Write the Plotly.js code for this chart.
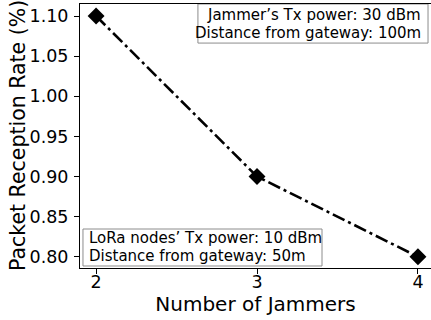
<!DOCTYPE html>
<html>
<head>
<meta charset="utf-8">
<script src="https://cdn.plot.ly/plotly-3.0.1.min.js"></script>
<style>html,body{margin:0;padding:0;background:#fff;overflow:hidden;}#chart{width:431px;height:320px;}</style>
</head>
<body>
<div id="chart"></div>
<script>
const jammers = [2, 3, 4];
const receptionRate = [1.10, 0.90, 0.80];
const xTicks = [2, 3, 4];
const yTicks = [0.80, 0.85, 0.90, 0.95, 1.00, 1.05, 1.10];
const yTickLabels = ["0.80", "0.85", "0.90", "0.95", "1.00", "1.05", "1.10"];
const xTitle = "Number of Jammers";
const yTitle = "Packet Reception Rate (%)";
const noteTopLines = ["Jammer’s Tx power: 30 dBm", "Distance from gateway: 100m"];
const noteBottomLines = ["LoRa nodes’ Tx power: 10 dBm", "Distance from gateway: 50m"];

const font = "DejaVu Sans, sans-serif";

const trace = {
  x: jammers,
  y: receptionRate,
  mode: "lines+markers",
  type: "scatter",
  line: {color: "#000", width: 2.6, dash: "13px,4px,3px,4px"},
  marker: {symbol: "diamond", size: 13, color: "#000"},
  hoverinfo: "none",
  cliponaxis: false
};

const noteFont = {size: 15, family: font, color: "#000"};
const annotations = [
  {x: 0.977, y: 0.958, xanchor: "right", text: noteTopLines[0]},
  {x: 0.977, y: 0.890, xanchor: "right", text: noteTopLines[1]},
  {x: 0.0199, y: 0.112, xanchor: "left", text: noteBottomLines[0]},
  {x: 0.0199, y: 0.047, xanchor: "left", text: noteBottomLines[1]}
].map(a => Object.assign({xref: "paper", yref: "paper", yanchor: "middle", showarrow: false, font: noteFont}, a));

annotations.push({
  xref: "paper", yref: "paper", x: -0.1766, y: 0.5, xanchor: "center", yanchor: "middle",
  textangle: -90, showarrow: false, text: yTitle,
  font: {size: 20.5, family: font, color: "#000"}
});

const boxStyle = {type: "rect", xref: "paper", yref: "paper", layer: "below",
  fillcolor: "rgba(255,255,255,0.9)", line: {color: "#8c8c8c", width: 1}};

const layout = {
  width: 431, height: 320,
  margin: {l: 80, r: 0, t: 4, b: 52},
  paper_bgcolor: "#fff", plot_bgcolor: "#fff",
  showlegend: false,
  font: {family: font, color: "#000"},
  xaxis: {
    range: [1.9, 4.081],
    tickvals: xTicks,
    ticktext: xTicks.map(String),
    ticks: "outside", ticklen: 5, tickwidth: 1, tickcolor: "#000",
    showline: true, linecolor: "#000", linewidth: 1, mirror: true,
    showgrid: false, zeroline: false,
    ticklabelstandoff: -7,
    tickfont: {size: 17.5, family: font, color: "#000"},
    title: {text: xTitle, font: {size: 20, family: font, color: "#000"}, standoff: 4}
  },
  yaxis: {
    range: [0.786, 1.115],
    tickvals: yTicks,
    ticktext: yTickLabels,
    ticks: "outside", ticklen: 5, tickwidth: 1, tickcolor: "#000",
    showline: true, linecolor: "#000", linewidth: 1,
    showgrid: false, zeroline: false,
    ticklabelstandoff: 2,
    tickfont: {size: 17.5, family: font, color: "#000"}
  },
  shapes: [
    Object.assign({x0: 0.336, x1: 0.9915, y0: 0.852, y1: 1.0}, boxStyle),
    Object.assign({x0: 0.0085, x1: 0.6895, y0: 0.0076, y1: 0.1477}, boxStyle)
  ],
  annotations: annotations
};

Plotly.newPlot("chart", [trace], layout, {staticPlot: true, displayModeBar: false});
</script>
</body>
</html>
